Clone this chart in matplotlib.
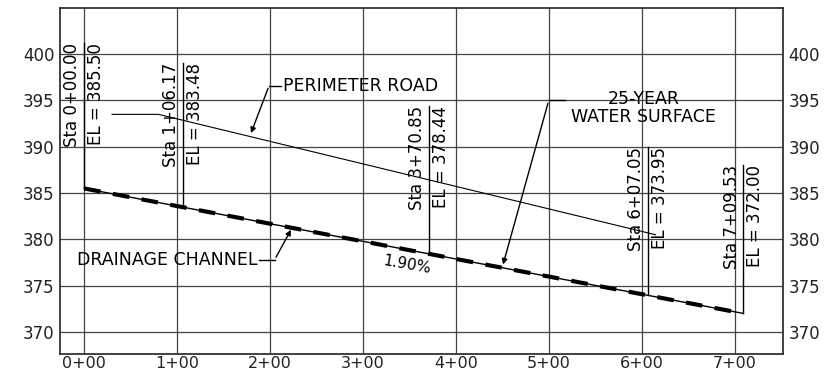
import matplotlib
matplotlib.use('Agg')
from matplotlib import pyplot as plt

# Stations (in hundreds of feet) and channel elevations
sta = [0.0, 1.0617, 3.7085, 6.0705, 7.0953]
elev = [385.50, 383.48, 378.44, 373.95, 372.00]
sta_labels = ['Sta 0+00.00', 'Sta 1+06.17', 'Sta 3+70.85', 'Sta 6+07.05', 'Sta 7+09.53']
el_labels = ['EL = 385.50', 'EL = 383.48', 'EL = 378.44', 'EL = 373.95', 'EL = 372.00']
leader_top = [401.2, 399.1, 394.4, 390.0, 388.0]

# Perimeter road profile
road_x = [0.30, 0.80, 6.15]
road_y = [393.5, 393.5, 380.5]

xticks = [0, 1, 2, 3, 4, 5, 6, 7]
xtick_labels = ['0+00', '1+00', '2+00', '3+00', '4+00', '5+00', '6+00', '7+00']
yticks = [370, 375, 380, 385, 390, 395, 400]

plt.rcParams['font.family'] = ['DejaVu Sans']

fig = plt.figure(figsize=(8.28, 3.76), dpi=100)
ax = fig.add_axes([0.0725, 0.058, 0.873, 0.921])

ax.set_xlim(-0.26, 7.52)
ax.set_ylim(367.6, 405.0)
ax.set_xticks(xticks)
ax.set_xticklabels(xtick_labels)
ax.set_yticks(yticks)
ax.tick_params(length=0, labelsize=12, labelright=True, pad=4, labelcolor='#222222')
ax.tick_params(axis='x', labelsize=11.5, pad=1.5)
ax.grid(True, color='#444444', linewidth=0.9)
for s in ax.spines.values():
    s.set_linewidth(1.3)
    s.set_color('#333333')

# drainage channel: thin line with heavy dashes on top
ax.plot(sta, elev, color='black', linewidth=1.0)
ax.plot(sta, elev, color='black', linewidth=3.0, dashes=(4, 3))

# perimeter road
ax.plot(road_x, road_y, color='black', linewidth=0.8)

# station leaders and labels
for x, y, top, sl, el in zip(sta, elev, leader_top, sta_labels, el_labels):
    ax.plot([x, x], [y, top], color='black', linewidth=1.0)
    ax.text(x - 0.03, top, sl, rotation=90, ha='right', va='top', fontsize=12)
    ax.text(x + 0.03, top, el, rotation=90, ha='left', va='top', fontsize=12)

# callouts
ax.annotate('', xy=(1.785, 391.2), xytext=(1.99, 396.6),
            arrowprops=dict(arrowstyle='-|>', color='black', lw=1.0, mutation_scale=8))
ax.plot([1.99, 2.12], [396.6, 396.6], color='black', linewidth=1.0)
ax.text(2.14, 396.6, 'PERIMETER ROAD', ha='left', va='center', fontsize=12.5)

ax.annotate('', xy=(4.50, 377.0), xytext=(5.00, 395.0),
            arrowprops=dict(arrowstyle='-|>', color='black', lw=1.0, mutation_scale=8))
ax.plot([5.00, 5.17], [395.0, 395.0], color='black', linewidth=1.0)
ax.text(6.02, 394.2, '25-YEAR\nWATER SURFACE', ha='center', va='center',
        fontsize=12.5, linespacing=1.0)

ax.annotate('', xy=(2.24, 381.3), xytext=(2.05, 377.8),
            arrowprops=dict(arrowstyle='-|>', color='black', lw=1.0, mutation_scale=8))
ax.plot([1.88, 2.05], [377.8, 377.8], color='black', linewidth=1.0)
ax.text(1.86, 377.8, 'DRAINAGE CHANNEL', ha='right', va='center', fontsize=12.5)

ax.text(3.47, 377.3, '1.90%', ha='center', va='center', fontsize=11, rotation=-10)

fig.savefig('out.png', dpi=100)
